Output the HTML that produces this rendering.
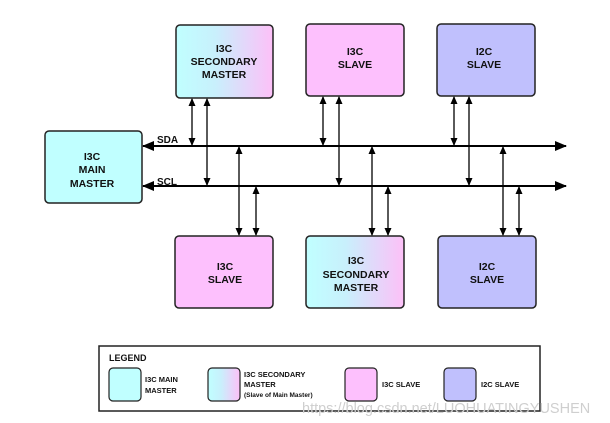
<!DOCTYPE html>
<html><head><style>body{margin:0;background:#fff}svg{display:block}text{font-family:"Liberation Sans",sans-serif;font-weight:bold;fill:#111}</style></head><body>
<svg width="610" height="423" viewBox="0 0 610 423">
<defs>
<linearGradient id="g" x1="0" x2="1"><stop offset="0" stop-color="#c0ffff"/><stop offset="0.4" stop-color="#c8f0fc"/><stop offset="1" stop-color="#fdc0f8"/></linearGradient>
<marker id="a" markerWidth="8" markerHeight="8" refX="7" refY="4" orient="auto-start-reverse" markerUnits="userSpaceOnUse"><path d="M0,0.5 L8,4 L0,7.5z" fill="#000"/></marker>
<marker id="b" markerWidth="12" markerHeight="10" refX="11" refY="5" orient="auto-start-reverse" markerUnits="userSpaceOnUse"><path d="M0,0 L12,5 L0,10z" fill="#000"/></marker>
</defs>
<g stroke="#222" stroke-width="1.5">
<rect x="176" y="25" width="97" height="73" rx="4" fill="url(#g)"/>
<rect x="306" y="24" width="98" height="72" rx="4" fill="#fdc0fd"/>
<rect x="437" y="24" width="98" height="72" rx="4" fill="#c0c0fd"/>
<rect x="45" y="131" width="97" height="72" rx="4" fill="#c0ffff"/>
<rect x="175" y="236" width="98" height="72" rx="4" fill="#fdc0fd"/>
<rect x="306" y="236" width="98" height="72" rx="4" fill="url(#g)"/>
<rect x="438" y="236" width="98" height="72" rx="4" fill="#c0c0fd"/>
</g>
<g stroke="#000" stroke-width="2">
<line x1="143" y1="146" x2="566" y2="146" marker-start="url(#b)" marker-end="url(#b)"/>
<line x1="143" y1="186" x2="566" y2="186" marker-start="url(#b)" marker-end="url(#b)"/>
</g>
<g stroke="#000" stroke-width="1.3" marker-start="url(#a)" marker-end="url(#a)">
<line x1="192" y1="99" x2="192" y2="145"/><line x1="207" y1="99" x2="207" y2="185"/>
<line x1="323" y1="97" x2="323" y2="145"/><line x1="339" y1="97" x2="339" y2="185"/>
<line x1="454" y1="97" x2="454" y2="145"/><line x1="469" y1="97" x2="469" y2="185"/>
<line x1="239" y1="147" x2="239" y2="235"/><line x1="256" y1="187" x2="256" y2="235"/>
<line x1="372" y1="147" x2="372" y2="235"/><line x1="388" y1="187" x2="388" y2="235"/>
<line x1="503" y1="147" x2="503" y2="235"/><line x1="519" y1="187" x2="519" y2="235"/>
</g>
<g font-size="10.5" text-anchor="middle">
<text x="224" y="52">I3C</text><text x="224" y="65">SECONDARY</text><text x="224" y="78">MASTER</text>
<text x="355" y="55">I3C</text><text x="355" y="68">SLAVE</text>
<text x="484" y="55">I2C</text><text x="484" y="68">SLAVE</text>
<text x="92" y="160">I3C</text><text x="92" y="173">MAIN</text><text x="92" y="187">MASTER</text>
<text x="225" y="270">I3C</text><text x="225" y="283">SLAVE</text>
<text x="356" y="264">I3C</text><text x="356" y="278">SECONDARY</text><text x="356" y="291">MASTER</text>
<text x="487" y="270">I2C</text><text x="487" y="283">SLAVE</text>
</g>
<text x="157" y="143" font-size="10">SDA</text>
<text x="157" y="185" font-size="10">SCL</text>
<rect x="99" y="346" width="441" height="65" fill="none" stroke="#222" stroke-width="1.5"/>
<text x="109" y="361" font-size="9">LEGEND</text>
<g stroke="#222" stroke-width="1.2">
<rect x="109" y="368" width="32" height="33" rx="4" fill="#c0ffff"/>
<rect x="208" y="368" width="32" height="33" rx="4" fill="url(#g)"/>
<rect x="345" y="368" width="32" height="33" rx="4" fill="#fdc0fd"/>
<rect x="444" y="368" width="32" height="33" rx="4" fill="#c0c0fd"/>
</g>
<g font-size="7.5">
<text x="145" y="382">I3C MAIN</text><text x="145" y="393">MASTER</text>
<text x="244" y="377">I3C SECONDARY</text><text x="244" y="387">MASTER</text><text x="244" y="397" font-size="6.5">(Slave of Main Master)</text>
<text x="382" y="387">I3C SLAVE</text>
<text x="481" y="387">I2C SLAVE</text>
</g>
<text x="302" y="413" font-size="14.5" style="fill:#cfcfcf;font-weight:normal">https://blog.csdn.net/LUOHUATINGYUSHEN</text>
</svg>
</body></html>
